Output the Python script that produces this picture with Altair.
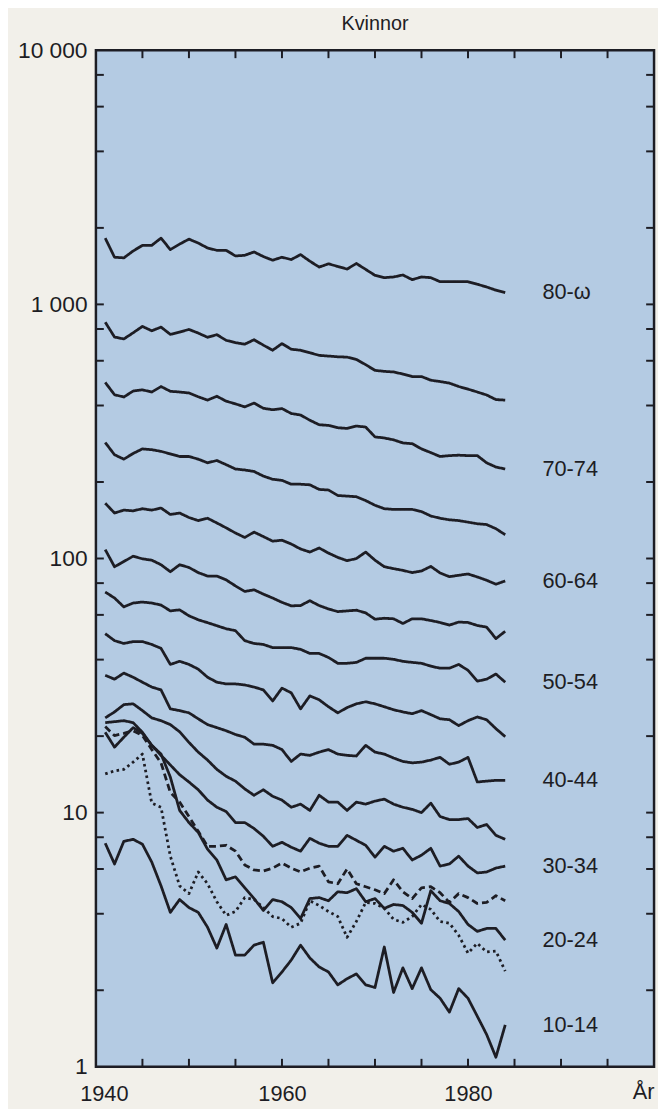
import altair as alt
import pandas as pd

# ---------------- data ----------------
years = list(range(1941, 1985))

ages = ["80-ω", "75-79", "70-74", "65-69", "60-64", "55-59", "50-54", "45-49",
        "40-44", "35-39", "30-34", "25-29", "20-24", "15-19", "10-14"]

s80 = [1823, 1533, 1524, 1622, 1707, 1707, 1823, 1642, 1727, 1806, 1743, 1667, 1632, 1632, 1551,
       1560, 1608, 1542, 1492, 1533, 1501, 1570, 1479, 1402, 1444, 1410, 1377, 1448, 1373, 1301,
       1274, 1282, 1305, 1251, 1282, 1274, 1228, 1228, 1228, 1228, 1200, 1171, 1137, 1113]
s75 = [851, 744, 731, 773, 819, 787, 814, 762, 778, 797, 771, 742, 760, 722, 707,
       697, 726, 691, 660, 701, 666, 660, 645, 630, 626, 622, 620, 607, 579, 550,
       545, 542, 532, 520, 520, 503, 497, 490, 475, 464, 452, 440, 422, 420]
s70 = [493, 441, 432, 456, 461, 452, 475, 455, 452, 448, 433, 420, 435, 416, 406,
       395, 409, 390, 385, 389, 372, 367, 350, 336, 334, 327, 325, 332, 329, 301,
       298, 293, 285, 283, 270, 261, 252, 254, 255, 254, 254, 238, 229, 225]
s65 = [286, 256, 246, 259, 270, 268, 264, 258, 252, 252, 246, 238, 243, 234, 225,
       223, 220, 211, 205, 203, 196, 196, 195, 187, 186, 177, 176, 175, 169, 162,
       157, 156, 156, 156, 153, 147, 144, 142, 141, 139, 137, 136, 131, 124]
s60 = [165, 151, 155, 154, 157, 155, 158, 149, 151, 145, 141, 144, 138, 132, 126,
       121, 127, 122, 117, 118, 114, 109, 106, 110, 105, 101, 98, 100, 106, 98.5,
       92.8, 91.2, 89.8, 88.0, 89.3, 93.1, 87.7, 84.8, 85.9, 86.9, 84.6, 82.1, 79.2, 81.6]
s55 = [108.4, 92.8, 97.3, 102.1, 99.7, 98.5, 94.5, 88.7, 94.5, 92.2, 88.0, 85.3, 85.3, 82.4, 78.0,
       74.2, 75.3, 72.4, 69.9, 67.2, 65.1, 65.3, 68.2, 65.3, 63.3, 61.8, 62.2, 62.6, 61.1, 57.7,
       58.2, 57.9, 55.5, 57.9, 57.9, 57.0, 56.0, 54.7, 56.2, 56.0, 54.5, 53.7, 48.4, 51.7]
s50 = [73.8, 69.9, 64.5, 66.8, 67.4, 66.8, 65.6, 62.2, 62.8, 59.5, 57.4, 55.9, 54.4, 52.9, 52.0,
       47.5, 46.3, 45.9, 44.6, 44.6, 44.6, 43.9, 42.3, 42.3, 40.8, 38.7, 38.7, 39.0, 40.5, 40.5,
       40.5, 40.1, 39.4, 39.0, 38.7, 37.7, 37.0, 37.0, 38.3, 36.3, 32.9, 33.5, 35.1, 32.6]
s45 = [50.6, 47.5, 46.3, 47.1, 47.1, 45.9, 44.3, 38.3, 39.4, 38.3, 36.7, 34.1, 32.6, 32.1, 32.1,
       31.8, 31.2, 30.4, 27.5, 30.9, 29.6, 25.6, 28.8, 27.8, 26.1, 24.7, 25.9, 26.8, 27.3, 26.8,
       26.1, 25.4, 24.9, 24.5, 25.2, 24.3, 23.4, 23.2, 22.0, 23.0, 23.8, 23.2, 21.4, 19.9]
s40 = [34.7, 33.5, 35.4, 34.1, 32.6, 31.2, 30.4, 25.6, 25.2, 24.7, 23.4, 22.2, 21.6, 21.0, 20.3,
       19.8, 18.6, 18.6, 18.4, 17.7, 15.9, 17.0, 16.8, 17.3, 17.7, 17.0, 16.8, 16.7, 18.4, 17.3,
       17.0, 16.4, 15.9, 15.7, 15.8, 16.1, 16.5, 15.5, 15.8, 16.5, 13.2, 13.3, 13.4, 13.4]
s35 = [23.6, 24.9, 26.6, 26.8, 25.2, 23.6, 23.0, 22.2, 20.8, 18.9, 17.3, 16.1, 14.8, 13.9, 13.3,
       12.4, 11.7, 12.3, 11.6, 11.2, 10.5, 10.8, 10.2, 11.7, 11.0, 11.0, 10.2, 11.0, 10.8, 11.1,
       11.3, 10.8, 10.5, 10.3, 10.0, 10.9, 9.65, 9.39, 9.39, 9.48, 8.74, 8.98, 8.14, 7.85]
s30 = [22.6, 22.8, 23.0, 22.6, 20.7, 18.4, 16.8, 15.4, 14.1, 13.2, 12.3, 11.2, 10.5, 10.1, 9.14,
       9.14, 8.66, 8.07, 7.37, 7.64, 7.31, 7.05, 7.92, 7.58, 7.37, 7.37, 8.14, 7.78, 7.44, 6.68,
       7.37, 7.05, 7.24, 6.51, 6.80, 7.24, 6.16, 6.28, 6.74, 6.16, 5.79, 5.84, 6.05, 6.16]
s25 = [21.8, 20.1, 20.5, 21.0, 20.1, 17.7, 15.7, 12.0, 11.0, 9.65, 8.44, 7.37, 7.37, 7.44, 7.05,
       6.22, 5.95, 5.89, 6.05, 6.33, 6.05, 5.84, 6.05, 6.16, 5.34, 5.25, 6.00, 5.25, 5.11, 4.97,
       4.80, 5.44, 4.88, 4.59, 5.06, 5.11, 4.84, 4.43, 4.80, 4.63, 4.39, 4.43, 4.71, 4.50]
s20 = [20.7, 18.1, 19.8, 21.6, 20.5, 18.4, 17.0, 13.8, 10.2, 9.14, 8.36, 7.18, 6.51, 5.44, 5.59,
       5.06, 4.59, 4.12, 4.55, 4.46, 4.23, 3.83, 4.59, 4.63, 4.50, 4.88, 4.84, 5.02, 4.46, 4.59,
       4.20, 4.35, 4.31, 4.05, 3.67, 4.93, 4.50, 4.39, 4.08, 3.63, 3.41, 3.50, 3.50, 3.15]
s15 = [14.2, 14.6, 14.8, 15.8, 17.0, 10.9, 10.5, 6.74, 5.15, 4.80, 5.84, 5.25, 4.46, 3.94, 4.08,
       4.63, 4.55, 4.23, 3.90, 3.83, 3.54, 3.67, 4.50, 4.31, 4.08, 3.90, 3.23, 3.73, 4.43, 4.39,
       4.20, 3.80, 3.70, 3.90, 4.35, 4.16, 3.73, 3.67, 3.29, 2.80, 3.06, 2.83, 2.85, 2.38]
s10 = [7.58, 6.28, 7.71, 7.85, 7.51, 6.39, 5.15, 4.05, 4.55, 4.23, 4.05, 3.54, 2.93, 3.63, 2.75,
       2.75, 3.01, 3.09, 2.14, 2.36, 2.63, 3.01, 2.68, 2.47, 2.36, 2.10, 2.22, 2.32, 2.10, 2.05,
       2.96, 1.96, 2.45, 2.03, 2.45, 2.01, 1.86, 1.64, 2.03, 1.86, 1.58, 1.34, 1.09, 1.46]

series = [s80, s75, s70, s65, s60, s55, s50, s45, s40, s35, s30, s25, s20, s15, s10]
line_style = {"25-29": "dashed", "15-19": "dotted"}

labelled = ["80-ω", "70-74", "60-64", "50-54", "40-44", "30-34", "20-24", "10-14"]
label_year = 1988

x_label_years = [1940, 1960, 1980]
x_tick_years = [1945, 1950, 1955, 1960, 1965, 1970, 1975, 1980, 1985, 1990, 1995]
y_label_values = [1, 10, 100, 1000, 10000]
y_tick_values = [2, 4, 6, 8, 10, 20, 40, 60, 80, 100, 200, 400, 600, 800,
                 1000, 2000, 4000, 6000, 8000]

# ---------------- tables ----------------
rows = []
for age, vals in zip(ages, series):
    for yr, v in zip(years, vals):
        rows.append({"year": yr, "rate": v, "age": age,
                     "style": line_style.get(age, "solid")})
df = pd.DataFrame(rows)

last = {age: vals[-1] for age, vals in zip(ages, series)}
lab_df = pd.DataFrame({"label": labelled,
                       "rate": [last[a] for a in labelled],
                       "year": [label_year] * len(labelled)})
xt_df = pd.DataFrame({"year": x_tick_years})
yt_df = pd.DataFrame({"rate": y_tick_values})

# ---------------- styling ----------------
W, H = 565, 1029
FONT = "Liberation Sans"
INK = "#1d1d24"
BLUE = "#b4cbe3"
PAPER = "#f2f0ea"
TICK = 8

xs = alt.Scale(domain=[1940, 2000], nice=False, zero=False)
ys = alt.Scale(type="log", domain=[1, 10000], nice=False)

x_axis = alt.Axis(
    values=x_label_years, format="d", ticks=False, domain=False, grid=False,
    labelFlush=False, labelOverlap=False,
    labelFont=FONT, labelFontSize=22, labelColor=INK, labelPadding=17,
    labelOffset={"condition": {"test": "datum.value === 1940", "value": 8}, "value": 0},
    title="År", titleFont=FONT, titleFontSize=22, titleFontWeight="normal",
    titleColor=INK, titleAnchor="end", titleAlign="right", titleX=W, titleY=25,
    titleBaseline="middle",
)
y_axis = alt.Axis(
    values=y_label_values, ticks=False, domain=False, grid=False,
    labelFlush=False, labelOverlap=False,
    labelExpr="replace(format(datum.value, ',d'), ',', ' ')",
    labelFont=FONT, labelFontSize=23, labelColor=INK, labelPadding=9,
    title=None,
)

xq = alt.X("year:Q", scale=xs, axis=x_axis)
yq = alt.Y("rate:Q", scale=ys, axis=y_axis)

lines = alt.Chart(df).mark_line(
    color=INK, strokeWidth=2.8, strokeCap="butt", strokeJoin="round"
).encode(
    x=xq,
    y=yq,
    detail="age:N",
    strokeDash=alt.StrokeDash(
        "style:N",
        scale=alt.Scale(domain=["solid", "dashed", "dotted"],
                        range=[[1, 0], [7, 4], [2.6, 3.4]]),
        legend=None,
    ),
    order="year:Q",
)

tick_bottom = alt.Chart(xt_df).mark_rule(color=INK, strokeWidth=2).encode(
    x=xq, y=alt.value(H), y2=alt.value(H - TICK))
tick_top = alt.Chart(xt_df).mark_rule(color=INK, strokeWidth=2).encode(
    x=xq, y=alt.value(0), y2=alt.value(TICK))
tick_left = alt.Chart(yt_df).mark_rule(color=INK, strokeWidth=2).encode(
    y=yq, x=alt.value(0), x2=alt.value(TICK))
tick_right = alt.Chart(yt_df).mark_rule(color=INK, strokeWidth=2).encode(
    y=yq, x=alt.value(W - TICK), x2=alt.value(W))

labels = alt.Chart(lab_df).mark_text(
    align="left", baseline="middle", font=FONT, fontSize=22, color=INK
).encode(x=xq, y=yq, text="label:N")

chart = alt.layer(
    lines, tick_bottom, tick_top, tick_left, tick_right, labels
).properties(
    width=W, height=H,
    title=alt.TitleParams("Kvinnor", font=FONT, fontSize=20, fontWeight="normal",
                          color=INK, anchor="middle", offset=5),
    padding={"left": 89, "top": 36, "right": 4, "bottom": 36},
    autosize=alt.AutoSizeParams(type="none"),
    background=PAPER,
).configure_view(
    stroke=INK, strokeWidth=2.5, fill=BLUE
)

chart.save("out.html", embed_options={"renderer": "svg", "actions": False})
